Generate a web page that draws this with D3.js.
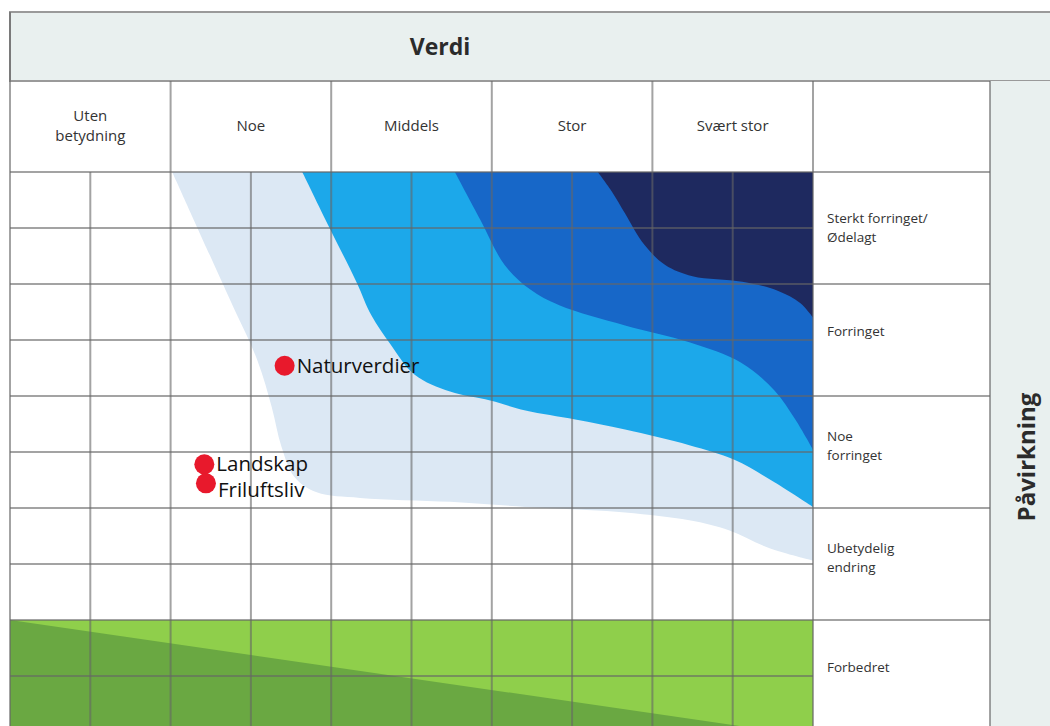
<!DOCTYPE html>
<html><head><meta charset="utf-8">
<script src="https://cdn.jsdelivr.net/npm/d3@7"></script>
<style>html,body{margin:0;padding:0;background:#fff;}svg{display:block;}</style>
</head><body>
<svg id="chart" width="1050" height="726"></svg>
<script>
// ---- data ----
const title = "Verdi";
const axisTitle = "Påvirkning";
const columns = [["Uten", "betydning"], ["Noe"], ["Middels"], ["Stor"], ["Svært stor"]];
const rows = [["Sterkt forringet/", "Ødelagt"], ["Forringet"], ["Noe", "forringet"], ["Ubetydelig", "endring"], ["Forbedret"]];
// zone boundaries in (value, impact) units: value 0..5 across columns, impact 0..5 down rows
const zoneLight = [[1.01,0],[1.37,1.14],[1.54,1.68],[1.63,2.1],[1.69,2.45],[1.77,2.72],[1.91,2.86],[2.18,2.91],[2.74,2.945],[3.21,2.99],[3.83,3.04],[4.23,3.11],[4.48,3.2],[4.73,3.36],[5,3.47]];
const zoneMedium = [[1.82,0],[1.99,0.5],[2.16,0.99],[2.25,1.28],[2.37,1.54],[2.52,1.81],[2.74,1.96],[2.99,2.04],[3.21,2.13],[3.52,2.21],[3.83,2.3],[4.23,2.44],[4.51,2.57],[4.76,2.77],[5,2.99]];
const zoneDark = [[2.77,0],[2.93,0.43],[3.08,0.83],[3.24,1.05],[3.42,1.19],[3.83,1.37],[4.23,1.52],[4.55,1.7],[4.76,1.95],[4.89,2.21],[5,2.48]];
const zoneNavy = [[3.66,0],[3.75,0.18],[3.83,0.37],[3.95,0.65],[4.08,0.83],[4.25,0.93],[4.56,0.98],[4.78,1.06],[4.92,1.17],[5,1.3]];
const greenDark = [[0,4],[4.8,5],[0,5]];
const pointNames = ["Naturverdier", "Landskap", "Friluftsliv"];
const pointValue = [1.71, 1.21, 1.22];
const pointImpact = [1.73, 2.61, 2.78];

// ---- layout ----
const svg = d3.select("#chart");
const x = d3.scaleLinear().domain([0, 5]).range([10, 813]);
const y = d3.scaleLinear().domain([0, 5]).range([172, 732]);
const headTop = 12, headMid = 81, labelRight = 990, W = 1050;
const gridColor = "#666";

// header band
svg.append("rect").attr("x", x(0)).attr("y", headTop).attr("width", W + 5 - x(0)).attr("height", headMid - headTop)
  .attr("fill", "#e9f0ef").attr("stroke", "#9a9a9a").attr("stroke-width", 2);
svg.append("text").attr("x", 440).attr("y", 55).attr("text-anchor", "middle")
  .attr("font-family", "Open Sans").attr("font-weight", "bold").attr("font-size", 23).attr("fill", "#2b2b2b").text(title);
// right panel
svg.append("rect").attr("x", labelRight).attr("y", headMid).attr("width", W - labelRight).attr("height", 726 - headMid)
  .attr("fill", "#e9f0ef");
svg.append("text").attr("transform", `translate(1035,457) rotate(-90)`).attr("text-anchor", "middle")
  .attr("font-family", "Open Sans").attr("font-weight", "bold").attr("font-size", 24).attr("fill", "#2b2b2b").text(axisTitle);

// zones
function zonePath(pts) {
  const line = d3.line().x(d => x(d[0])).y(d => y(d[1])).curve(d3.curveCatmullRom.alpha(0.5));
  return line(pts) + `L${x(5)},${y(0)}Z`;
}
svg.append("rect").attr("x", x(0)).attr("y", y(4)).attr("width", x(5) - x(0)).attr("height", y(5) - y(4)).attr("fill", "#8fcf4b");
svg.append("path").attr("d", d3.line().x(d => x(d[0])).y(d => y(d[1]))(greenDark) + "Z").attr("fill", "#6aa842");
[[zoneLight, "#dce8f4"], [zoneMedium, "#1ca8ea"], [zoneDark, "#1767c8"], [zoneNavy, "#1e295f"]].forEach(([pts, c]) => {
  svg.append("path").attr("d", zonePath(pts)).attr("fill", c);
});

// grid
const g = svg.append("g").attr("stroke", gridColor).attr("stroke-opacity", 0.6).attr("stroke-width", 2);
d3.range(0.5, 5, 0.5).forEach(v => {
  g.append("line").attr("x1", x(v)).attr("x2", x(v)).attr("y1", Number.isInteger(v) ? headMid : y(0)).attr("y2", 726);
});
d3.range(0, 5.01, 0.5).forEach(v => {
  g.append("line").attr("x1", x(0)).attr("x2", Number.isInteger(v) ? labelRight : x(5)).attr("y1", y(v)).attr("y2", y(v));
});
g.append("line").attr("x1", x(0)).attr("x2", x(0)).attr("y1", headTop).attr("y2", 726);
g.append("line").attr("x1", x(5)).attr("x2", x(5)).attr("y1", headMid).attr("y2", 726);
g.append("line").attr("x1", labelRight).attr("x2", labelRight).attr("y1", headMid).attr("y2", 726);

// column labels
columns.forEach((lines, i) => {
  const cx = x(i + 0.5), lh = 20, cy = (headMid + y(0)) / 2 + 5 - (lines.length - 1) * lh / 2;
  const t = svg.append("text").attr("text-anchor", "middle").attr("font-family", "Open Sans")
    .attr("font-size", 15).attr("fill", "#333");
  lines.forEach((s, k) => t.append("tspan").attr("x", cx).attr("y", cy + k * lh - 1).text(s));
});
// row labels
rows.forEach((lines, i) => {
  const lh = 18.5;
  const cy = y(i + 0.5) - 4 - (lines.length - 1) * 5 - (lines.length > 1 ? (i > 0 ? 2 : -4) : 0);
  const t = svg.append("text").attr("font-family", "Open Sans").attr("font-size", 13.5).attr("fill", "#333");
  lines.forEach((s, k) => t.append("tspan").attr("x", 827).attr("y", cy + k * lh).text(s));
});

// points
pointNames.forEach((n, i) => {
  const px = x(pointValue[i]), py = y(pointImpact[i]);
  svg.append("circle").attr("cx", px).attr("cy", py).attr("r", 10).attr("fill", "#e8192c");
});
pointNames.forEach((n, i) => {
  const px = x(pointValue[i]), py = y(pointImpact[i]);
  svg.append("text").attr("x", px + 12).attr("y", py + (i === 2 ? 14 : 7)).attr("font-family", "Open Sans")
    .attr("font-size", 20.5).attr("fill", "#111").text(n);
});
</script>
</body></html>
